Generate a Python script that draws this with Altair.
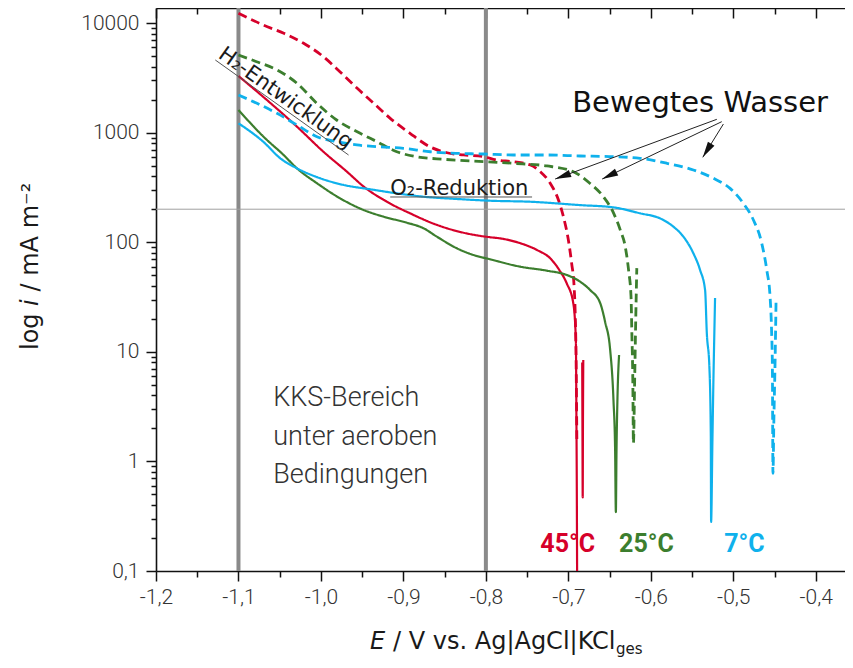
import math
import altair as alt
import pandas as pd

# ---------------- data ----------------
# 45 °C, stagnant water (solid)
red_still_E = [-1.100, -1.0655, -1.029, -0.997, -0.9685, -0.948, -0.920, -0.892, -0.859, -0.827,
               -0.795, -0.783, -0.758, -0.738, -0.722, -0.711, -0.702, -0.694, -0.6909, -0.6902,
               -0.6897, -0.6894]
red_still_i = [3284, 1983, 1132, 669, 440, 321, 234, 183.5, 143.5, 122,
               111, 108.5, 97.7, 84.9, 71.3, 55.8, 42.2, 27.7, 12.8, 2.4,
               0.45, 0.1]
red_still_anodic_E = [-0.6832, -0.6829, -0.6826, -0.6823, -0.6819]
red_still_anodic_i = [8.0, 2.0, 0.47, 2.2, 8.4]
# 45 °C, moving water (dashed)
red_moving_E = [-1.100, -1.070, -1.045, -1.021, -0.997, -0.977, -0.956, -0.936, -0.916, -0.892,
                -0.868, -0.847, -0.827, -0.803, -0.787, -0.767, -0.746, -0.734, -0.722, -0.712,
                -0.706, -0.700, -0.696, -0.693, -0.6918, -0.6906, -0.6897]
red_moving_i = [12260, 9590, 8055, 6530, 4925, 3595, 2535, 1851, 1350, 985,
                743, 655, 625, 603, 562, 543, 506, 440, 345, 243,
                171, 105, 64, 39, 24, 8.4, 1.6]
# 25 °C, stagnant water (solid)
green_still_E = [-1.100, -1.0696, -1.0453, -1.0291, -1.0048, -0.9766, -0.9484, -0.9241, -0.8958, -0.8756,
                 -0.8594, -0.8352, -0.815, -0.7948, -0.7584, -0.7261, -0.7018, -0.6857, -0.6736, -0.6613,
                 -0.6554, -0.6493, -0.6453, -0.6433, -0.6424, -0.6416, -0.6405, -0.6385]
green_still_i = [1608, 917, 625, 472, 345, 251, 197, 171, 150.6, 134,
                 112.3, 88, 76.4, 69.8, 59.8, 55, 50.2, 43.6, 36.6, 27.7,
                 18.7, 10.4, 3.63, 1.27, 0.345, 1.27, 3.63, 9.35]
# 25 °C, moving water (dashed)
green_moving_E = [-1.100, -1.078, -1.053, -1.029, -1.005, -0.981, -0.956, -0.932, -0.908, -0.884,
                  -0.851, -0.819, -0.767, -0.726, -0.694, -0.674, -0.6575, -0.645, -0.637, -0.631,
                  -0.627, -0.624, -0.623, -0.6218, -0.6211, -0.6196, -0.6183, -0.6170]
green_moving_i = [5105, 4436, 3725, 2817, 1851, 1303, 1019, 826, 669, 603,
                  571, 551, 525, 496, 440, 345, 260, 183.5, 129, 91,
                  55.8, 31.8, 14.8, 5.2, 1.46, 5.5, 19.5, 58]
# 7 °C, stagnant water (solid)
blue_still_E = [-1.100, -1.0696, -1.0493, -1.0291, -1.0008, -0.9726, -0.9402, -0.9079, -0.8756, -0.8352,
                -0.7948, -0.7463, -0.6857, -0.6453, -0.613, -0.5888, -0.5726, -0.5605, -0.5484, -0.5403,
                -0.5342, -0.5321, -0.529, -0.5273, -0.5269, -0.5253, -0.5241, -0.5229, -0.5221]
blue_still_i = [1216, 821, 583, 472, 383, 333, 304, 279, 260, 248,
                239, 234, 218, 208, 183.5, 165, 138.5, 112.3, 79.2, 55.8,
                36.6, 14.8, 7.31, 1.82, 0.28, 1.57, 5.53, 15.8, 31]
# 7 °C, moving water (dashed)
blue_moving_E = [-1.100, -1.0776, -1.0533, -1.0291, -1.0048, -0.9806, -0.9564, -0.9321, -0.8999, -0.8675,
                 -0.8352, -0.8029, -0.7665, -0.7261, -0.6857, -0.6453, -0.613, -0.5806, -0.5484, -0.5241,
                 -0.5039, -0.4878, -0.4756, -0.4655, -0.4594, -0.4554, -0.4536, -0.4526, -0.4519, -0.4508,
                 -0.4493, -0.4481]
blue_moving_i = [2203, 1851, 1500, 1173, 917, 826, 771, 744, 719, 669,
                 647, 638, 625, 625, 612, 603, 583, 525, 456, 383,
                 310, 226, 159.4, 97.7, 55.8, 31.8, 15.8, 7.3, 0.78, 2.39,
                 8.4, 31]

temperatures = ["45", "25", "7"]
temp_labels = ["45°C", "25°C", "7°C"]
temp_label_E = [-0.7008, -0.6053, -0.4866]
temp_label_i = [0.149, 0.149, 0.149]

kks_limits_E = [-1.1, -0.8]
ref_line_i = [200]

x_major_ticks = [-1.2, -1.1, -1.0, -0.9, -0.8, -0.7, -0.6, -0.5, -0.4]
x_minor_ticks = [-1.15, -1.05, -0.95, -0.85, -0.75, -0.65, -0.55, -0.45, -0.35]
y_major_ticks = [0.1, 1, 10, 100, 1000, 10000]
y_minor_ticks = [m * d for d in [0.1, 1, 10, 100, 1000] for m in range(2, 10)]

kks_lines = ["KKS-Bereich", "unter aeroben", "Bedingungen"]
kks_E = [-1.0578, -1.0578, -1.0578]
kks_i = [3.20, 1.41, 0.631]

h2_text = ["H₂-Entwicklung"]
h2_E = [-1.1257]
h2_i = [4896]
h2_underline_E = [-1.1281, -0.9665]
h2_underline_i = [4597, 624.6]

o2_text = ["O₂-Reduktion"]
o2_E = [-0.916]
o2_i = [269.6]
o2_underline_E = [-0.916, -0.744]
o2_underline_i = [258.5, 258.5]

moving_text = ["Bewegtes Wasser"]
moving_E = [-0.6954]
moving_i = [1551]
arrow_E0 = [-0.520, -0.514, -0.512]
arrow_i0 = [1322, 1258, 1198]
arrow_E1 = [-0.716, -0.659, -0.537]
arrow_i1 = [377, 377, 595]

x_title_parts = ["E", "/ V vs. Ag|AgCl|KCl", "ges"]
y_title_parts = ["log", "i", "/ mA m⁻²"]

# ---------------- layout ----------------
W, H = 701, 563
X_DOMAIN = [-1.2, -0.35]
Y_DOMAIN = [0.1, 13706]
PX_PER_V = W / (X_DOMAIN[1] - X_DOMAIN[0])
PX_PER_DEC = H / (math.log10(Y_DOMAIN[1]) - math.log10(Y_DOMAIN[0]))

RED, GREEN, BLUE = "#d6002a", "#3c7e2e", "#0fb1ec"

xs = alt.Scale(domain=X_DOMAIN, nice=False, zero=False)
ys = alt.Scale(type="log", domain=Y_DOMAIN, nice=False)

series = [
    ("45", "still", "r1", red_still_E, red_still_i),
    ("45", "still", "r2", red_still_anodic_E, red_still_anodic_i),
    ("45", "moving", "r3", red_moving_E, red_moving_i),
    ("25", "still", "g1", green_still_E, green_still_i),
    ("25", "moving", "g2", green_moving_E, green_moving_i),
    ("7", "still", "b1", blue_still_E, blue_still_i),
    ("7", "moving", "b2", blue_moving_E, blue_moving_i),
]
rows = []
for temp, flow, seg, Es, Is in series:
    for k, (e, v) in enumerate(zip(Es, Is)):
        rows.append({"temp": temp, "flow": flow, "seg": seg, "idx": k, "E": e, "i": v})
curves = pd.DataFrame(rows)

vline_df = pd.DataFrame({"E": kks_limits_E})
hline_df = pd.DataFrame({"i": ref_line_i})

color_scale = alt.Scale(domain=temperatures, range=[RED, GREEN, BLUE])

kks_rules = alt.Chart(vline_df).mark_rule(color="#8a8a8a", strokeWidth=4).encode(
    x=alt.X("E:Q", scale=xs, axis=None))
ref_rule = alt.Chart(hline_df).mark_rule(color="#a0a0a0", strokeWidth=1).encode(
    y=alt.Y("i:Q", scale=ys, axis=None))

lines = alt.Chart(curves).mark_line(clip=True, interpolate="monotone", strokeCap="butt").encode(
    x=alt.X("E:Q", scale=xs, axis=None),
    y=alt.Y("i:Q", scale=ys, axis=None),
    color=alt.Color("temp:N", scale=color_scale, legend=None),
    strokeDash=alt.StrokeDash("flow:N", scale=alt.Scale(domain=["still", "moving"], range=[[1, 0], [9, 5]]), legend=None),
    strokeWidth=alt.StrokeWidth("flow:N", scale=alt.Scale(domain=["still", "moving"], range=[2.2, 2.8]), legend=None),
    detail="seg:N",
    order="idx:Q",
)

temp_df = pd.DataFrame({"t": temp_labels, "temp": temperatures, "E": temp_label_E, "i": temp_label_i})
temp_text = alt.Chart(temp_df).mark_text(font="Roboto", fontSize=25, fontWeight="bold", align="center", baseline="alphabetic").encode(
    x=alt.X("E:Q", scale=xs, axis=None), y=alt.Y("i:Q", scale=ys, axis=None),
    text="t:N", color=alt.Color("temp:N", scale=color_scale, legend=None))

kks_df = pd.DataFrame({"t": kks_lines, "E": kks_E, "i": kks_i})
kks_text = alt.Chart(kks_df).mark_text(font="Roboto", fontSize=27, fontWeight=300, color="#333", align="left", baseline="alphabetic").encode(
    x=alt.X("E:Q", scale=xs, axis=None), y=alt.Y("i:Q", scale=ys, axis=None), text="t:N")

h2_df = pd.DataFrame({"t": h2_text, "E": h2_E, "i": h2_i})
h2 = alt.Chart(h2_df).mark_text(font="DejaVu Sans", fontSize=21, color="#1a1a1a", align="left", baseline="alphabetic", angle=35.5).encode(
    x=alt.X("E:Q", scale=xs, axis=None), y=alt.Y("i:Q", scale=ys, axis=None), text="t:N")
h2u_df = pd.DataFrame({"E": [h2_underline_E[0]], "i": [h2_underline_i[0]], "E2": [h2_underline_E[1]], "i2": [h2_underline_i[1]]})
h2u = alt.Chart(h2u_df).mark_rule(color="#555", strokeWidth=1).encode(
    x=alt.X("E:Q", scale=xs, axis=None), y=alt.Y("i:Q", scale=ys, axis=None), x2="E2:Q", y2="i2:Q")

o2_df = pd.DataFrame({"t": o2_text, "E": o2_E, "i": o2_i})
o2 = alt.Chart(o2_df).mark_text(font="DejaVu Sans", fontSize=21, color="#1a1a1a", align="left", baseline="alphabetic").encode(
    x=alt.X("E:Q", scale=xs, axis=None), y=alt.Y("i:Q", scale=ys, axis=None), text="t:N")
o2u_df = pd.DataFrame({"E": [o2_underline_E[0]], "i": [o2_underline_i[0]], "E2": [o2_underline_E[1]], "i2": [o2_underline_i[1]]})
o2u = alt.Chart(o2u_df).mark_rule(color="#555", strokeWidth=1).encode(
    x=alt.X("E:Q", scale=xs, axis=None), y=alt.Y("i:Q", scale=ys, axis=None), x2="E2:Q", y2="i2:Q")

mv_df = pd.DataFrame({"t": moving_text, "E": moving_E, "i": moving_i})
mv = alt.Chart(mv_df).mark_text(font="DejaVu Sans", fontSize=29, color="#111", align="left", baseline="alphabetic").encode(
    x=alt.X("E:Q", scale=xs, axis=None), y=alt.Y("i:Q", scale=ys, axis=None), text="t:N")

angles = []
for e0, i0, e1, i1 in zip(arrow_E0, arrow_i0, arrow_E1, arrow_i1):
    dx = (e1 - e0) * PX_PER_V
    dy = -(math.log10(i1) - math.log10(i0)) * PX_PER_DEC
    angles.append(math.degrees(math.atan2(dx, -dy)) % 360)
arr_df = pd.DataFrame({"E": arrow_E0, "i": arrow_i0, "E2": arrow_E1, "i2": arrow_i1, "ang": angles})
arr_lines = alt.Chart(arr_df).mark_rule(color="#222", strokeWidth=1).encode(
    x=alt.X("E:Q", scale=xs, axis=None), y=alt.Y("i:Q", scale=ys, axis=None), x2="E2:Q", y2="i2:Q")
arr_heads = alt.Chart(arr_df).mark_point(shape="M0,0L-0.24,1L0.24,1Z", size=1024, filled=True, color="#111", opacity=1, strokeWidth=0).encode(
    x=alt.X("E2:Q", scale=xs, axis=None), y=alt.Y("i2:Q", scale=ys, axis=None),
    angle=alt.Angle("ang:Q", scale=None))

# axis titles built from styled pieces
xt = alt.Chart(pd.DataFrame({"t": [x_title_parts[0]]})).mark_text(
    font="DejaVu Sans", fontSize=24, fontStyle="italic", color="#1a1a1a", align="left", baseline="alphabetic").encode(
    x=alt.value(214), y=alt.value(641), text="t:N")
xt2 = alt.Chart(pd.DataFrame({"t": [x_title_parts[1]]})).mark_text(
    font="DejaVu Sans", fontSize=24, color="#1a1a1a", align="left", baseline="alphabetic").encode(
    x=alt.value(237), y=alt.value(641), text="t:N")
xt3 = alt.Chart(pd.DataFrame({"t": [x_title_parts[2]]})).mark_text(
    font="DejaVu Sans", fontSize=15, color="#1a1a1a", align="left", baseline="alphabetic").encode(
    x=alt.value(460), y=alt.value(646), text="t:N")
yt = alt.Chart(pd.DataFrame({"t": [y_title_parts[0]]})).mark_text(
    font="DejaVu Sans", fontSize=24, color="#1a1a1a", align="left", baseline="alphabetic", angle=270).encode(
    x=alt.value(-118), y=alt.value(342), text="t:N")
yt2 = alt.Chart(pd.DataFrame({"t": [y_title_parts[1]]})).mark_text(
    font="DejaVu Sans", fontSize=24, fontStyle="italic", color="#1a1a1a", align="left", baseline="alphabetic", angle=270).encode(
    x=alt.value(-118), y=alt.value(298), text="t:N")
yt3 = alt.Chart(pd.DataFrame({"t": [y_title_parts[2]]})).mark_text(
    font="DejaVu Sans", fontSize=24, color="#1a1a1a", align="left", baseline="alphabetic", angle=270).encode(
    x=alt.value(-118), y=alt.value(283.5), text="t:N")

# axes (frame with inward ticks on top/right, outward on bottom/left)
AX = dict(grid=False, title=None, tickColor="#111", tickWidth=1.5, domainColor="#111", domainWidth=1.6, labelFlush=False)
XLAB = "replace(replace(format(datum.value, '.1f'), '.', ','), '\u2212', '-')"
YLAB = "datum.value < 1 ? '0,1' : format(datum.value, 'd')"

def x_axis_layer(values, size, offset, labels, domain):
    kw = dict(AX, values=values, tickSize=size, offset=offset, labels=labels, domain=domain, orient="bottom")
    if labels:
        kw.update(labelExpr=XLAB, labelFont="Roboto", labelFontSize=21, labelFontWeight=300, labelColor="#333", labelPadding=5, labelOverlap=False)
    return alt.Chart(vline_df).mark_rule(opacity=0).encode(x=alt.X("E:Q", scale=xs, axis=alt.Axis(**kw)))

def y_axis_layer(values, size, offset, labels, domain):
    kw = dict(AX, values=values, tickSize=size, offset=offset, labels=labels, domain=domain, orient="left")
    if labels:
        kw.update(labelExpr=YLAB, labelFont="Roboto", labelFontSize=21, labelFontWeight=300, labelColor="#333", labelPadding=7, labelOverlap=False)
    return alt.Chart(hline_df).mark_rule(opacity=0).encode(y=alt.Y("i:Q", scale=ys, axis=alt.Axis(**kw)))

axes = [
    x_axis_layer(x_major_ticks, 10, 0, True, True),
    x_axis_layer(x_minor_ticks, 6, 0, False, False),
    x_axis_layer(x_major_ticks, 10, -H, False, True),
    x_axis_layer(x_minor_ticks, 6, -H, False, False),
    y_axis_layer(y_major_ticks, 10, 0, True, True),
    y_axis_layer(y_minor_ticks, 5, 0, False, False),
    y_axis_layer(y_major_ticks, 10, -W, False, True),
    y_axis_layer(y_minor_ticks, 5, -W, False, False),
]

chart = alt.layer(
    *axes, kks_rules, ref_rule, lines, temp_text, kks_text, h2, h2u, o2, o2u, mv, arr_lines, arr_heads,
    xt, xt2, xt3, yt, yt2, yt3,
).resolve_axis(x="independent", y="independent").properties(
    width=W, height=H,
    padding={"left": 148, "top": 0, "right": -12, "bottom": 89},
    autosize=alt.AutoSizeParams(type="none"),
).configure_view(stroke=None)

chart.save("out.html", embed_options={"renderer": "svg", "actions": False})
